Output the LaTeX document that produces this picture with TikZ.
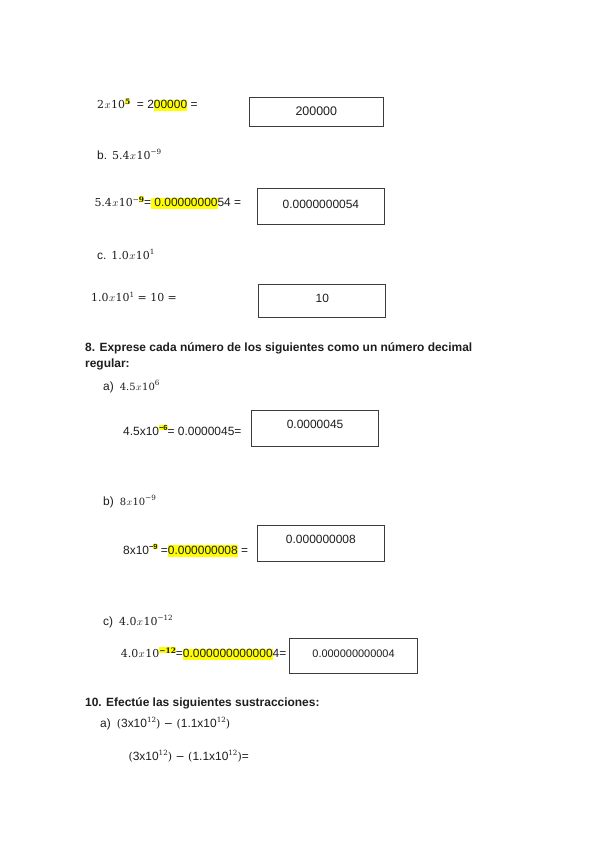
\documentclass[tikz,border=0pt]{standalone}
\usepackage{fontspec}
\setmainfont{Liberation Sans}
\newfontfamily\camb{DejaVu Serif}
\definecolor{hly}{HTML}{FFFF00}
\definecolor{boxc}{HTML}{3C3C3C}
\definecolor{ink}{HTML}{1E1E1E}
\newcommand\hlx[1]{{\setlength\fboxsep{0pt}\colorbox{hly}{\rule[-2.5bp]{0pt}{11.3bp}#1}}}
\newcommand\hsup[1]{{\setlength\fboxsep{0pt}\colorbox{hly}{\fontsize{7.5}{8}\selectfont\bfseries #1}}}
\newcommand\supr[1]{\raisebox{4.7bp}{\fontsize{7.5}{8}\selectfont #1}}
\newcommand\msup[1]{\raisebox{4.7bp}{\fontsize{7.2}{8}\selectfont\camb #1}}
\newcommand\cx{\kern0.4bp$x$\kern0.4bp}
\tikzset{
  txt/.style={anchor=base west, inner sep=0pt, text=ink, font=\fontsize{12}{14}\selectfont},
  hd/.style={txt, font=\fontsize{12}{14}\selectfont\bfseries},
  mth/.style={txt, font=\fontsize{11}{13}\selectfont\camb},
  ansbox/.style={draw=boxc, line width=1.1bp, anchor=north west, inner sep=0pt, text=ink, font=\fontsize{11.5}{13}\selectfont}
}
\begin{document}
\begin{tikzpicture}[x=1bp,y=-1bp]
\useasboundingbox[fill=white] (0,0) rectangle (595,841);

% first block
\node[mth] (l1) at (97,108.7) {2\cx10\raisebox{4.7bp}{\hsup{5}}{\fontsize{12}{14}\selectfont\rmfamily\ \ = 2\hlx{00000} =}};
\node[ansbox, minimum width=133.5bp, text height=18.3bp, text depth=11.3bp, font=\fontsize{12.5}{14}\selectfont] (b1) at (249,96.7) {200000};

\node[txt] (l2) at (97,159) {b.\hspace{5bp}{\fontsize{11}{13}\selectfont\camb 5.4\cx10\msup{−9}}};

\node[mth] (l3) at (94.3,206.7) {5.4\cx10\raisebox{4.7bp}{\fontsize{7.2}{8}\selectfont −\hsup{9}}{\fontsize{12}{14}\selectfont\rmfamily=\hlx{ 0.00000000}54 =}};
\node[ansbox, minimum width=127.3bp, text height=19.7bp, text depth=16bp, font=\fontsize{12}{14}\selectfont] (b2) at (256.7,188.3) {0.0000000054};

\node[txt] (l4) at (97,259) {c.\hspace{5bp}{\fontsize{11}{13}\selectfont\camb 1.0\cx10\msup{1}}};

\node[mth] (l5) at (91,301.7) {1.0\cx10\msup{1} = 10 =};
\node[ansbox, minimum width=127bp, text height=18bp, text depth=14.7bp, font=\fontsize{12}{14}\selectfont] (b3) at (258.3,284) {10};

% question 8
\node[hd] (h8a) at (85,351.7) {8. Exprese cada número de los siguientes como un número decimal};
\node[hd] (h8b) at (85,367.7) {regular:};

\node[txt] (qa) at (103,390) {a)\hspace{6bp}{\fontsize{10}{12}\selectfont\camb 4.5\cx10\msup{6}}};
\node[txt] (la) at (123,435) {4.5x10\supr{\hsup{−6}}= 0.0000045=};
\node[ansbox, minimum width=127bp, text height=18bp, text depth=17.7bp, font=\fontsize{12}{14}\selectfont] (ba) at (251,410) {0.0000045};

\node[txt] (qb) at (103,505) {b)\hspace{6bp}{\fontsize{10}{12}\selectfont\camb 8\cx10\msup{−9}}};
\node[txt] (lb) at (123,554) {8x10\supr{\bfseries −\hsup{9}} =\hlx{0.000000008} =};
\node[ansbox, minimum width=127.3bp, text height=17.7bp, text depth=18bp, font=\fontsize{12}{14}\selectfont] (bb) at (256.7,525.3) {0.000000008};

\node[txt] (qc) at (103,625) {c)\hspace{6bp}{\fontsize{11}{13}\selectfont\camb 4.0\cx10\msup{−12}}};
\node[mth] (lc) at (120.7,657.7) {4.0\cx10\raisebox{4.7bp}{\hsup{−12}}{\fontsize{12}{14}\selectfont\rmfamily=\hlx{0.000000000000}4=}};
\node[ansbox, minimum width=128bp, text height=18.8bp, text depth=16.2bp, font=\fontsize{11}{13}\selectfont] (bc) at (289,637.7) {0.000000000004};

% question 10
\node[hd] (h10) at (85,706.7) {10. Efectúe las siguientes sustracciones:};
\node[txt] (q10a) at (100,727) {a)\hspace{6bp}{\camb\fontsize{11}{13}\selectfont(}3x10\msup{12}{\camb\fontsize{11}{13}\selectfont) − (}1.1x10\msup{12}{\camb\fontsize{11}{13}\selectfont)}};
\node[txt] (l10) at (128.3,760) {{\camb\fontsize{11}{13}\selectfont(}3x10\msup{12}{\camb\fontsize{11}{13}\selectfont) − (}1.1x10\msup{12}{\camb\fontsize{11}{13}\selectfont)}=};
\end{tikzpicture}
\end{document}
